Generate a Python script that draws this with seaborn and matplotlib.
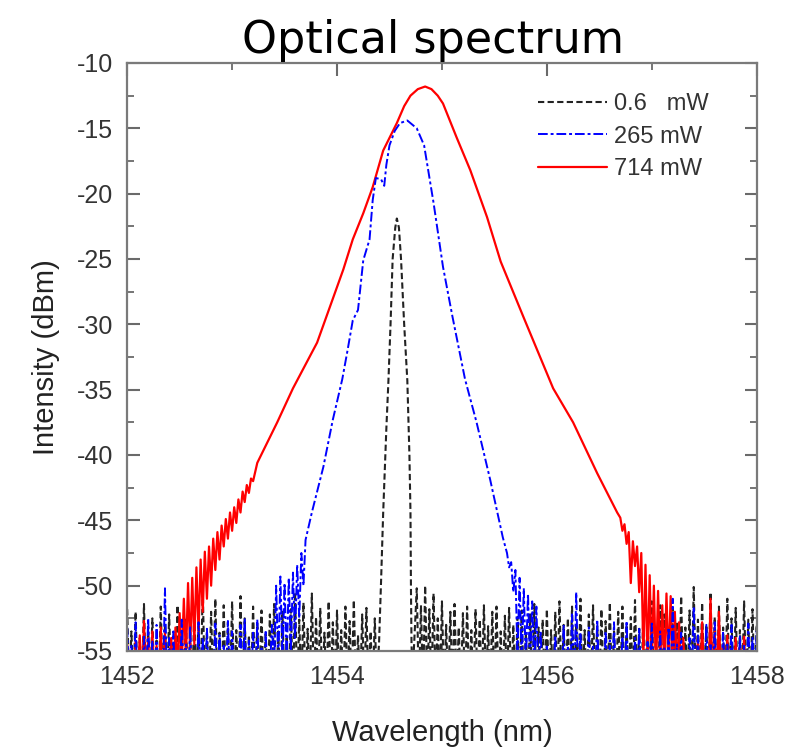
import numpy as np
import pandas as pd
import matplotlib
matplotlib.use("Agg")
import matplotlib.pyplot as plt
import seaborn as sns

# ---------------- spectra (wavelength in nm, intensity in dBm) ----------------
NOISE_STEP = 0.04
FLOOR = -58.0          # below the instrument floor, clipped by the axes

# 0.6 mW: noise grass + narrow line
black_noise_left_start = 1452.00
black_noise_left = [-51.8, -53.5, -52.0, -54.0, -51.4, -53.2, -52.5, -54.2, -51.6, -53.0,
                    -52.2, -54.5, -51.5, -53.4, -52.6, -54.0, -51.8, -53.1, -50.1, -53.5,
                    -52.0, -51.0, -53.6, -51.5, -52.8, -51.2, -53.4, -50.8, -52.5, -53.8,
                    -51.6, -52.9, -51.9, -53.7, -52.2, -51.4, -53.5, -52.0, -54.0, -51.8,
                    -50.5, -52.6, -51.3, -53.3, -50.6, -52.4, -51.7, -53.6, -51.2, -52.8,
                    -51.9, -53.4, -51.6, -52.7, -51.1, -53.8, -52.2, -51.7, -53.5, -52.5]
black_peak_wl = [1454.38, 1454.40, 1454.42, 1454.44, 1454.47, 1454.49, 1454.51, 1454.53,
                 1454.555, 1454.57, 1454.59, 1454.61, 1454.64, 1454.67, 1454.69, 1454.70,
                 1454.705, 1454.71, 1454.72]
black_peak_db = [-57.0, -54.5, -49.6, -44.4, -38.0, -34.3, -30.0, -25.0,
                 -22.6, -21.9, -22.6, -25.0, -30.0, -34.3, -40.0, -44.4,
                 -50.5, -54.5, -57.0]
black_noise_right_start = 1454.76
black_noise_right = [-50.2, -51.5, -50.0, -51.8, -50.6, -52.5, -51.2, -53.0, -52.0, -51.4,
                     -53.2, -52.1, -51.6, -53.4, -51.8, -52.6, -51.5, -53.1, -52.0, -51.6,
                     -53.5, -52.3, -51.7, -53.0, -52.4, -51.9, -53.6, -52.2, -51.4, -53.2,
                     -52.6, -51.8, -53.4, -52.0, -51.2, -53.0, -52.5, -51.6, -52.9, -51.0,
                     -53.4, -52.2, -51.5, -53.1, -51.8, -52.7, -51.3, -53.5, -52.0, -51.6,
                     -53.0, -52.4, -51.1, -53.3, -51.9, -52.6, -51.2, -53.6, -51.5, -52.2,
                     -53.4, -51.7, -52.8, -50.8, -53.2, -51.9, -50.1, -52.6, -51.3, -53.0,
                     -50.5, -52.4, -51.6, -53.2, -51.0, -52.5, -51.7, -53.4, -51.2, -52.6,
                     -51.8, -53.0]

# 265 mW
blue_noise_left_start = 1452.00
blue_noise_left = [-53.2, -54.5, -52.8, -55.5, -53.9, -52.5, -54.2, -53.0, -55.0, -50.2,
                   -54.0, -53.5, -55.2, -52.6, -54.5, -53.1, -55.5, -52.8, -54.0, -53.3,
                   -55.0, -52.9, -53.8, -54.6, -52.7, -53.5, -55.0, -53.0, -52.5, -54.2,
                   -53.6, -52.6, -54.8, -53.4]
blue_main_wl = [1453.36, 1453.38, 1453.40, 1453.42, 1453.44, 1453.46, 1453.48, 1453.50,
                1453.52, 1453.54, 1453.56, 1453.58, 1453.60, 1453.62, 1453.64, 1453.66,
                1453.68, 1453.70, 1453.76, 1453.87, 1453.96, 1454.05, 1454.10, 1454.15,
                1454.20, 1454.22, 1454.25, 1454.31, 1454.34, 1454.37, 1454.42, 1454.45,
                1454.47, 1454.50, 1454.55, 1454.60, 1454.67, 1454.76, 1454.83, 1454.92,
                1455.01, 1455.10, 1455.22, 1455.33, 1455.46, 1455.58, 1455.62, 1455.64,
                1455.66, 1455.68, 1455.70, 1455.72, 1455.74, 1455.76, 1455.78, 1455.80,
                1455.82, 1455.84, 1455.86, 1455.88, 1455.90, 1455.92, 1455.94, 1455.96]
blue_main_db = [-56.5, -53.0, -56.5, -50.0, -56.0, -49.3, -55.5, -49.8,
                -56.0, -49.4, -55.0, -49.0, -54.0, -48.4, -52.5, -47.5,
                -50.0, -46.5, -44.4, -40.9, -37.3, -34.2, -32.0, -29.7,
                -28.9, -27.4, -25.1, -23.5, -20.5, -18.8, -18.9, -19.4,
                -17.8, -16.3, -15.2, -14.6, -14.4, -15.0, -16.3, -20.7,
                -25.6, -29.4, -34.2, -37.5, -41.9, -46.3, -47.5, -48.6,
                -48.2, -50.5, -48.8, -55.5, -49.4, -56.0, -50.2, -56.0,
                -50.6, -56.0, -51.2, -56.5, -51.6, -57.0, -53.5, -57.0]
blue_noise_right_start = 1456.00
blue_noise_right = [-54.5, -55.5, -53.8, -55.0, -53.0, -54.6, -52.2, -50.5, -53.6, -55.0,
                    -53.2, -54.5, -52.6, -55.2, -53.5, -54.2, -52.8, -55.0, -53.9, -52.7,
                    -55.5, -54.0, -53.2, -55.0, -54.3, -52.9, -55.5, -53.5, -54.8, -53.2,
                    -51.0, -54.5, -53.6, -55.2, -54.0, -51.6, -53.8, -55.0, -53.0, -54.4,
                    -52.8, -55.5, -53.6, -54.5, -53.0, -55.0, -53.8, -54.6, -52.9, -54.0,
                    -53.5]

# 714 mW
red_noise_left_start = 1452.00
red_noise_left = [-54.5, -55.5, -54.2, -53.8, -52.7, -54.0, -53.5, -54.6, -53.2, -53.6]
red_main_wl = [1452.40, 1452.42, 1452.44, 1452.46, 1452.48, 1452.50, 1452.52, 1452.54,
               1452.56, 1452.58, 1452.60, 1452.62, 1452.64, 1452.66, 1452.68, 1452.70,
               1452.72, 1452.74, 1452.76, 1452.78, 1452.80, 1452.82, 1452.84, 1452.86,
               1452.88, 1452.90, 1452.92, 1452.94, 1452.96, 1452.98, 1453.00, 1453.02,
               1453.04, 1453.06, 1453.08, 1453.10, 1453.12, 1453.14, 1453.16, 1453.18,
               1453.20, 1453.24, 1453.43, 1453.58, 1453.81, 1453.93, 1454.06, 1454.15,
               1454.25, 1454.34, 1454.44, 1454.57, 1454.64, 1454.70, 1454.77, 1454.84,
               1454.90, 1454.96, 1455.01, 1455.14, 1455.27, 1455.43, 1455.56, 1455.78,
               1456.06, 1456.25, 1456.48,
               1456.67, 1456.70, 1456.72, 1456.74, 1456.76, 1456.78, 1456.80, 1456.82,
               1456.84, 1456.86, 1456.88, 1456.90, 1456.92, 1456.94, 1456.96, 1456.98,
               1457.00, 1457.02, 1457.04, 1457.06, 1457.08, 1457.10, 1457.12, 1457.14,
               1457.16, 1457.18, 1457.20, 1457.22, 1457.24, 1457.26, 1457.28, 1457.30,
               1457.32, 1457.34, 1457.36]
red_main_db = [-56.5, -54.0, -57.0, -53.2, -56.5, -52.1, -56.0, -51.0,
               -55.5, -49.8, -55.0, -49.4, -54.5, -48.6, -53.5, -48.0,
               -52.0, -47.4, -51.0, -47.0, -50.0, -46.4, -48.8, -45.9,
               -48.0, -45.4, -47.0, -44.9, -46.4, -44.4, -45.8, -44.0,
               -45.2, -43.4, -44.4, -42.8, -43.6, -42.3, -42.9, -41.8,
               -42.0, -40.6, -37.5, -34.9, -31.4, -28.7, -25.8, -23.5,
               -21.5, -19.5, -16.7, -14.6, -13.3, -12.5, -12.0, -11.8,
               -12.0, -12.5, -13.1, -15.7, -18.2, -21.8, -25.2, -29.5,
               -34.9, -37.5, -41.4,
               -44.4, -44.8, -45.8, -45.3, -46.8, -45.9, -49.8, -46.6,
               -48.5, -47.0, -50.5, -47.5, -55.5, -48.4, -56.0, -49.2,
               -56.0, -50.0, -56.5, -50.4, -56.0, -51.5, -56.5, -50.6,
               -56.0, -50.8, -56.5, -52.0, -56.5, -52.8, -57.0, -54.0,
               -57.0, -55.0, -57.5]
red_noise_right_start = 1457.40
red_noise_right = [-55.5, -54.0, -52.8, -55.0, -51.0, -53.5, -52.0, -54.5, -53.8, -55.2,
                   -54.0, -54.8, -53.9, -55.5, -54.5, -55.0]

series_labels = ["0.6   mW", "265 mW", "714 mW"]
x_ticks = [1452, 1454, 1456, 1458]
y_ticks = [-55, -50, -45, -40, -35, -30, -25, -20, -15, -10]


def spikes(start, tops):
    """Noise samples: each reading followed by a dip below the floor."""
    wl, db = [], []
    for i, v in enumerate(tops):
        w = start + i * NOISE_STEP
        wl += [w, w + NOISE_STEP / 2]
        db += [v, FLOOR]
    return wl, db


def assemble(label, parts):
    wl, db = [], []
    for w, d in parts:
        wl += list(w)
        db += list(d)
    return pd.DataFrame({"wavelength": wl, "intensity": db, "power": label})


df_black = assemble(series_labels[0], [spikes(black_noise_left_start, black_noise_left),
                                       (black_peak_wl, black_peak_db),
                                       spikes(black_noise_right_start, black_noise_right)])
df_blue = assemble(series_labels[1], [spikes(blue_noise_left_start, blue_noise_left),
                                      (blue_main_wl, blue_main_db),
                                      spikes(blue_noise_right_start, blue_noise_right)])
df_red = assemble(series_labels[2], [spikes(red_noise_left_start, red_noise_left),
                                     (red_main_wl, red_main_db),
                                     spikes(red_noise_right_start, red_noise_right)])

# ---------------- figure ----------------
sns.set_style("ticks")
plt.rcParams["font.family"] = ["Liberation Sans", "DejaVu Sans"]
plt.rcParams["axes.unicode_minus"] = False

fig = plt.figure(figsize=(8.05, 7.5), dpi=100)
ax = fig.add_axes([0.158, 0.132, 0.782, 0.784])

styles = {
    series_labels[0]: dict(color="#222222", lw=1.5, dashes=(3.0, 1.6)),
    series_labels[1]: dict(color="#0000ff", lw=1.4, dashes=(5.0, 1.5, 1.5, 1.5)),
    series_labels[2]: dict(color="#ff0000", lw=1.6, dashes=None),
}

handles = {}
for df in (df_black, df_red, df_blue):
    label = df["power"].iloc[0]
    st = styles[label]
    sns.lineplot(data=df, x="wavelength", y="intensity", ax=ax, estimator=None,
                 sort=False, color=st["color"], lw=st["lw"], label=label)
    line = ax.get_lines()[-1]
    if st["dashes"] is not None:
        line.set_dashes(st["dashes"])
    handles[label] = line

ax.set_xlim(1452, 1458)
ax.set_ylim(-55, -10)
ax.set_xticks(x_ticks)
ax.set_yticks(y_ticks)
ax.set_xticks(np.arange(1453, 1458, 2), minor=True)
ax.set_yticks(np.arange(-52.5, -10, 5), minor=True)

for side in ("left", "right", "top", "bottom"):
    ax.spines[side].set_visible(True)
    ax.spines[side].set_color("#7a7a7a")
    ax.spines[side].set_linewidth(1.6)

ax.tick_params(which="both", direction="in", top=True, right=True, color="#6a6a6a")
ax.tick_params(which="major", length=9, width=1.5, labelsize=18, labelcolor="#333333",
               pad=10)
ax.tick_params(which="minor", length=5, width=1.3)

ax.set_xlabel("Wavelength (nm)", fontsize=21, color="#222222", labelpad=22)
ax.set_ylabel("Intensity (dBm)", fontsize=21, color="#222222", labelpad=12)
ax.set_title("Optical spectrum", fontsize=32, color="black", pad=7,
             family=["DejaVu Sans"], x=0.485)

ax.legend([handles[l] for l in series_labels], series_labels, loc="upper right",
          bbox_to_anchor=(0.957, 0.985), frameon=False, fontsize=17,
          handlelength=2.9, handletextpad=0.3, labelspacing=0.45,
          labelcolor="#333333")

fig.savefig("out.png", dpi=100, facecolor="white")
